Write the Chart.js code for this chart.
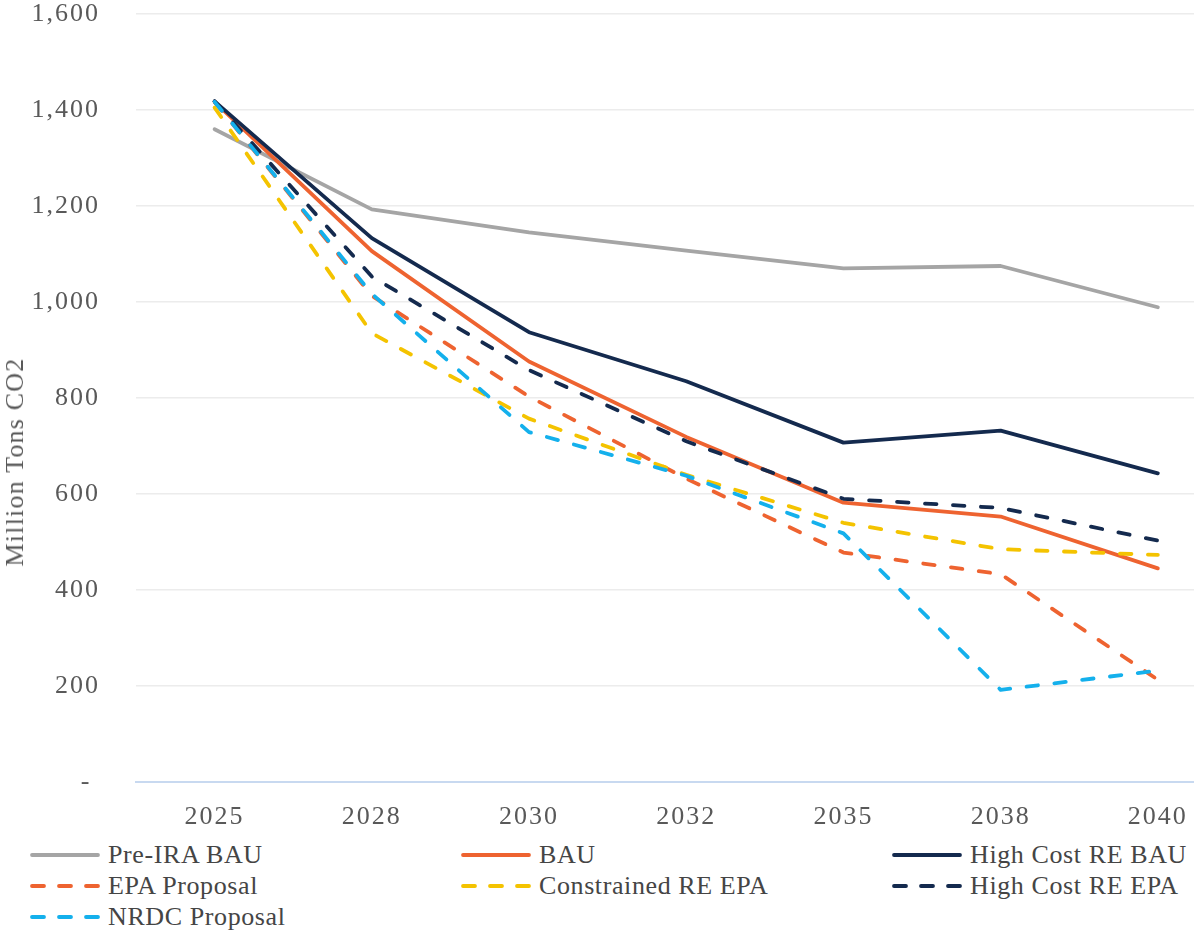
<!DOCTYPE html>
<html>
<head>
<meta charset="utf-8">
<script src="https://cdn.jsdelivr.net/npm/chart.js@4.4.1/dist/chart.umd.min.js"></script>
<style>
  html, body { margin: 0; padding: 0; background: #ffffff; overflow: hidden; }
  #wrap { position: relative; width: 1194px; height: 932px; }
  #c { position: absolute; left: 0; top: 0; }
  #ytitle {
    position: absolute; left: 15px; top: 462px;
    transform: translate(-50%, -50%) rotate(-90deg);
    font-family: 'Liberation Serif', 'Times New Roman', serif;
    font-size: 26px; letter-spacing: 1.2px; color: #595959; white-space: nowrap;
  }
  .leg { position: absolute; height: 30px; display: flex; align-items: center;
    font-family: 'Liberation Serif', 'Times New Roman', serif; font-size: 26px;
    letter-spacing: 0.6px; color: #454545; white-space: nowrap; }
  .leg svg { margin-right: 6px; flex: none; }
</style>
</head>
<body>
<div id="wrap">
  <canvas id="c" width="1194" height="840"></canvas>
  <div id="ytitle">Million Tons CO2</div>
  <div id="legend"></div>
</div>
<script>
// ---- data ----
const years = ['2025', '2028', '2030', '2032', '2035', '2038', '2040'];
const preIraBau      = [1360, 1193, 1145, 1107, 1070, 1075, 989];
const bau            = [1417, 1106, 876, 719, 582, 553, 445];
const highCostReBau  = [1418, 1133, 937, 835, 707, 732, 643];
const epaProposal    = [1417, 1013, 803, 632, 478, 433, 213];
const constrainedRe  = [1405, 935, 757, 640, 540, 485, 473];
const highCostReEpa  = [1418, 1053, 858, 710, 590, 571, 503];
const nrdcProposal   = [1417, 1017, 729, 638, 518, 192, 232];
const yTicks = [0, 200, 400, 600, 800, 1000, 1200, 1400, 1600];

const seriesNames = ['Pre-IRA BAU', 'BAU', 'High Cost RE BAU', 'EPA Proposal',
  'Constrained RE EPA', 'High Cost RE EPA', 'NRDC Proposal'];
const seriesValues = [preIraBau, bau, highCostReBau, epaProposal, constrainedRe, highCostReEpa, nrdcProposal];
const seriesColors = ['#a5a5a5', '#ee6330', '#142a4e', '#ee6330', '#f4c300', '#142a4e', '#14b0ec'];
const seriesDashed = [false, false, false, true, true, true, true];

const LW = 3.8;
const DASH = [11.5, 16.5];

const datasets = seriesNames.map((name, i) => ({
  label: name,
  data: seriesValues[i].map((v, k) => ({ x: k, y: v })),
  borderColor: seriesColors[i],
  backgroundColor: seriesColors[i],
  borderWidth: LW,
  borderDash: seriesDashed[i] ? DASH : [],
  borderCapStyle: 'round',
  borderJoinStyle: 'round',
  pointRadius: 0,
  pointHoverRadius: 0,
  fill: false,
  tension: 0,
  order: seriesNames.length - i
}));

const spacingPlugin = {
  id: 'spacing',
  beforeLayout(chart) { chart.ctx.letterSpacing = '2px'; },
  beforeDraw(chart) { chart.ctx.letterSpacing = '2px'; }
};

function zeroPad(scale) {
  scale.paddingTop = 0; scale.paddingBottom = 0;
  scale.paddingLeft = 0; scale.paddingRight = 0;
}

const tickFont = { family: "'Liberation Serif', 'Times New Roman', serif", size: 26 };

new Chart(document.getElementById('c'), {
  type: 'line',
  data: { datasets },
  plugins: [spacingPlugin],
  options: {
    responsive: false,
    animation: false,
    devicePixelRatio: 1,
    layout: { padding: { top: 14, left: 0, right: 0, bottom: 0 } },
    plugins: { legend: { display: false }, tooltip: { enabled: false } },
    scales: {
      x: {
        type: 'linear',
        min: -0.5,
        max: 6.23,
        afterBuildTicks(axis) { axis.ticks = years.map((_, i) => ({ value: i })); },
        afterFit(scale) { scale.height = 58; zeroPad(scale); },
        grid: { display: false, drawTicks: false },
        border: { display: true, color: '#c8d9f0', width: 2 },
        ticks: {
          autoSkip: false, maxRotation: 0, padding: 20,
          color: '#595959', font: tickFont,
          callback: (v) => years[v]
        }
      },
      y: {
        min: 0,
        max: 1600,
        afterBuildTicks(axis) { axis.ticks = yTicks.map(v => ({ value: v })); },
        afterFit(scale) { scale.width = 136; zeroPad(scale); },
        grid: { color: '#ececec', lineWidth: 1.5, drawTicks: false },
        border: { display: false },
        ticks: {
          padding: 36, color: '#595959', font: tickFont,
          callback: (v) => v === 0 ? '- ' : v.toLocaleString('en-US')
        }
      }
    }
  }
});

// ---- legend (HTML) ----
const legendCols = [30, 461, 892];
const legendRows = [855, 886, 917];
const legend = document.getElementById('legend');
seriesNames.forEach((name, i) => {
  const col = i % 3, row = Math.floor(i / 3);
  const d = document.createElement('div');
  d.className = 'leg';
  d.style.left = (legendCols[col] - 2) + 'px';
  d.style.top = (legendRows[row] - 15) + 'px';
  const dash = seriesDashed[i] ? `stroke-dasharray="12 15"` : '';
  d.innerHTML = `<svg width="74" height="10"><line x1="4" y1="5" x2="70" y2="5" stroke="${seriesColors[i]}" stroke-width="${LW}" stroke-linecap="round" ${dash}/></svg><span>${name}</span>`;
  legend.appendChild(d);
});
</script>
</body>
</html>
